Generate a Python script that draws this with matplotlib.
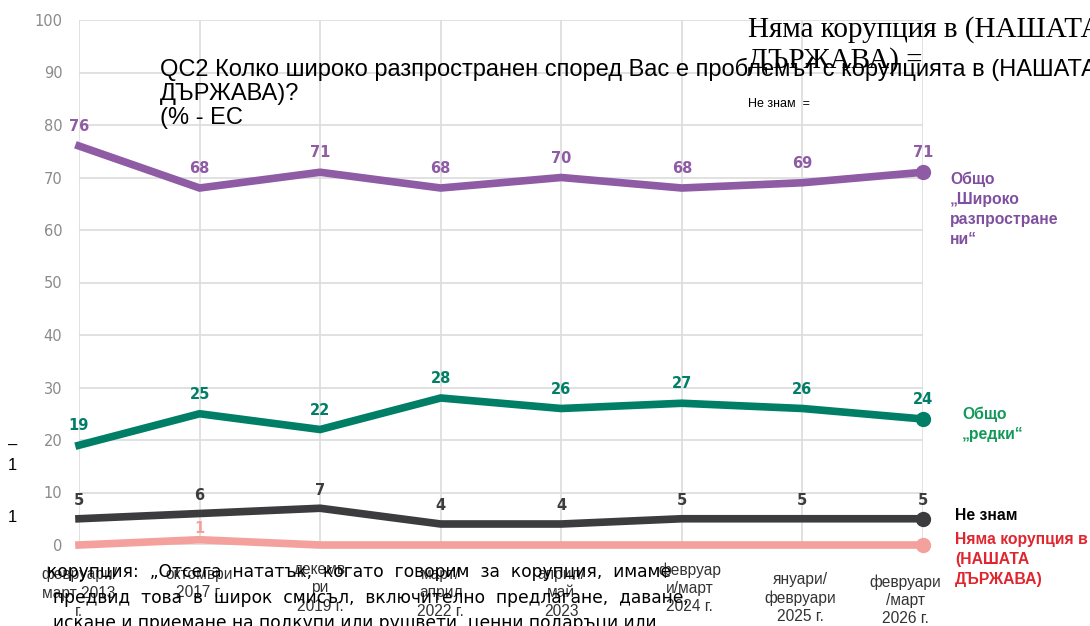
#!/usr/bin/env python3
import matplotlib
matplotlib.use("Agg")
import matplotlib.pyplot as plt

# ====== DATA ======
PERIODS = ["февруари/\nмарт 2013\nг.", "октомври\n2017 г.", "декемв\nри\n2019 г.",
           "март/\nаприл\n2022 г.", "април/\nмай\n2023", "февруар\nи/март\n2024 г.",
           "януари/\nфевруари\n2025 г.", "февруари\n/март\n2026 г."]
SHIROKO = [76, 68, 71, 68, 70, 68, 69, 71]
REDKI   = [19, 25, 22, 28, 26, 27, 26, 24]
NE_ZNAM = [5, 6, 7, 4, 4, 5, 5, 5]
NYAMA   = [0, 1, 0, 0, 0, 0, 0, 0]
Y_TICKS = [0, 10, 20, 30, 40, 50, 60, 70, 80, 90, 100]
# ==================

W, H = 1090, 626
PURPLE = "#8f5ba5"
GREEN = "#007f66"
DARK = "#3c3b3d"
PINK = "#f4a09c"

# per-label shift of the period labels (pixels: dx, top of first line below axis)
LBL_DX = [0, 0, 0, 0, 0, 8, -2, -18]
LBL_TOP = [22, 22, 17, 22, 22, 17, 27, 29]


def px(x, y):
    return x / W, 1 - y / H


fig = plt.figure(figsize=(W / 100, H / 100), dpi=100)
ax = fig.add_axes([79 / W, 1 - 545 / H, (923 - 79) / W, (545 - 20) / H])
ax.set_xlim(0, len(PERIODS) - 1)
ax.set_ylim(0, 100)
for s in ax.spines.values():
    s.set_visible(False)
ax.set_yticks(Y_TICKS)
ax.grid(True, color="#dcdcdc", lw=1.2)
ax.set_axisbelow(True)
ax.tick_params(length=0)
ax.tick_params(axis="y", labelcolor="#8a8a8a", labelsize=10.5, pad=12)

xs = list(range(len(PERIODS)))
ax.set_xticks(xs, [""] * len(xs))
for x, lab, dx, top in zip(xs, PERIODS, LBL_DX, LBL_TOP):
    ax.annotate(lab, (x, 0), xytext=(dx * 0.72, -top * 0.72), textcoords="offset points",
                ha="center", va="top", fontsize=11.2, family="Liberation Sans",
                color="#333333", linespacing=1.28, annotation_clip=False)

series = [(SHIROKO, PURPLE, 14), (REDKI, GREEN, 14), (NE_ZNAM, DARK, 13), (NYAMA, PINK, 8)]
for vals, col, off in series:
    ax.plot(xs, vals, color=col, lw=5.5, solid_joinstyle="miter", clip_on=False, zorder=3)
    ax.plot(xs[-1], vals[-1], "o", color=col, ms=10, clip_on=False, zorder=4)
    for x, v in zip(xs, vals):
        if v == 0:
            continue
        ax.annotate(str(v), (x, v), xytext=(0, off), textcoords="offset points",
                    ha="center", va="center", color=col, fontsize=10.5,
                    fontweight="bold", annotation_clip=False)

# right-hand series labels
lbl = dict(fontsize=11.3, fontweight="bold", family="Liberation Sans", linespacing=1.4)
fig.text(*px(950, 172), "Общо\n„Широко\nразпростране\nни“", color="#7f4fa0", va="top", **lbl)
fig.text(*px(962, 407), "Общо\n„редки“", color="#12995a", va="top", **lbl)
fig.text(*px(955, 515), "Не знам", color="black", va="center", **lbl)
fig.text(*px(955, 532), "Няма корупция в\n(НАШАТА\nДЪРЖАВА)", color="#e0252f", va="top", **lbl)

# leftover legend text top right
fig.text(*px(748, -7), "Общо „редки“ =", fontsize=9, family="Liberation Sans", va="center")
fig.text(*px(748, 16), "Няма корупция в (НАШАТА\nДЪРЖАВА) =", fontsize=21,
         family="Liberation Serif", va="top", linespacing=1.2)
fig.text(*px(748, 104), "Не знам  =", fontsize=9, family="Liberation Sans", va="center")

# title block
fig.text(*px(160, 58), "QC2 Колко широко разпространен според Вас е проблемът с корупцията в (НАШАТА\n"
         "ДЪРЖАВА)?\n(% - ЕС", fontsize=17, family="Liberation Sans", va="top", linespacing=1.1)

# stray marks at left
fig.text(*px(8, 445), "–", fontsize=12, family="Liberation Sans", va="center")
fig.text(*px(8, 466), "1", fontsize=12, family="Liberation Sans", va="center")
fig.text(*px(8, 518), "1", fontsize=12, family="Liberation Sans", va="center")

# definition text overlapping the bottom
fig.text(*px(47, 572), "корупция:  „Отсега  нататък,  когато  говорим  за  корупция,  имаме",
         fontsize=12.3, va="center")
fig.text(*px(53, 598), "предвид  това  в  широк  смисъл,  включително  предлагане,  даване,",
         fontsize=12.3, va="center")
fig.text(*px(53, 623), "искане и приемане на подкупи или рушвети, ценни подаръци или",
         fontsize=12.3, va="center")

fig.savefig("out.png", dpi=100)
